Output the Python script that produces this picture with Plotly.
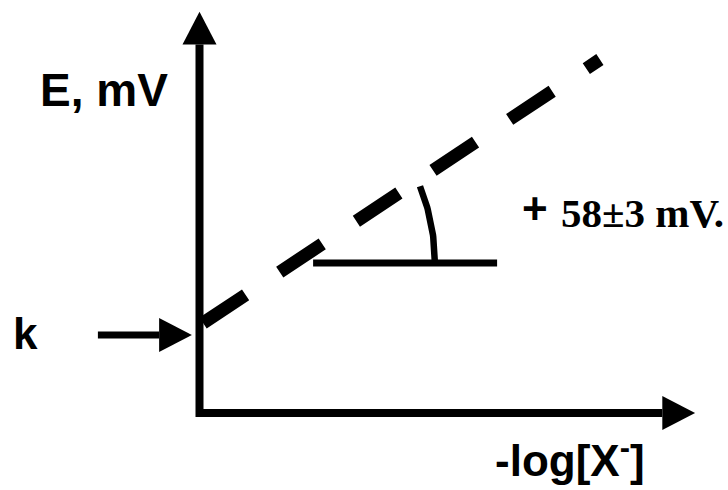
import numpy as np
import plotly.graph_objects as go

# ---- schematic values (data units, origin = axis corner) ----
x_axis_tip = 12.39          # end of the -log[X-] axis arrow
y_axis_tip = 10.03          # end of the E axis arrow
head_len = 0.82             # arrow head length
head_half = 0.425           # arrow head half width
k_arrow_y = 1.95            # level the k arrow points at
k_arrow_x = [-2.54, -0.19]  # k arrow tail / tip
intercept = 2.19            # E at -log[X-] = 0 (k)
slope = 0.664               # Nernst slope in drawing units
line_x = [0.09, 10.01]      # extent of the dashed response line
ref_y = 3.75                # horizontal reference for the slope angle
ref_x = [2.84, 7.44]
arc_center_x = 0.76
arc_radius = 5.125
arc_angle_deg = 22.0

labels = {
    "E": "E, mV",
    "k": "k",
    "x": "-log[X<sup>-</sup>]",
    "plus": "+",
    "slope": "58±3 mV.",
}

BLACK = "#000000"
fig = go.Figure()

def line(xs, ys, width, dash=None):
    fig.add_trace(go.Scatter(x=xs, y=ys, mode="lines",
                             line=dict(color=BLACK, width=width, dash=dash),
                             hoverinfo="skip"))

def tri(xs, ys):
    fig.add_trace(go.Scatter(x=xs + [xs[0]], y=ys + [ys[0]], mode="lines",
                             fill="toself", fillcolor=BLACK,
                             line=dict(color=BLACK, width=0), hoverinfo="skip"))

# axes (single L path)
line([0, 0, x_axis_tip - head_len], [y_axis_tip - head_len, 0, 0], 8)
tri([-head_half, head_half, 0], [y_axis_tip - head_len, y_axis_tip - head_len, y_axis_tip])
tri([x_axis_tip - head_len, x_axis_tip - head_len, x_axis_tip], [-head_half, head_half, 0])

# k arrow
line([k_arrow_x[0], k_arrow_x[1] - head_len], [k_arrow_y, k_arrow_y], 7)
tri([k_arrow_x[1] - head_len, k_arrow_x[1] - head_len, k_arrow_x[1]],
    [k_arrow_y - head_half, k_arrow_y + head_half, k_arrow_y])

# dashed response line
lx = np.array(line_x)
line(list(lx), list(intercept + slope * lx), 13, dash="51px,41px")

# reference line and angle arc
line(ref_x, [ref_y, ref_y], 7)
t = np.radians(np.linspace(0, arc_angle_deg, 40))
line(list(arc_center_x + arc_radius * np.cos(t)), list(ref_y + arc_radius * np.sin(t)), 6.5)

sans = "Liberation Sans, Arial, sans-serif"
serif = "Liberation Serif, Times New Roman, serif"
ann = [
    dict(x=-4.04, y=8.08, text="<b>%s</b>" % labels["E"], xanchor="left", yanchor="middle",
         font=dict(family=sans, size=46)),
    dict(x=-4.72, y=2.0, text="<b>%s</b>" % labels["k"], xanchor="left", yanchor="middle",
         font=dict(family=sans, size=44)),
    dict(x=7.33, y=-1.1, text="<b>%s</b>" % labels["x"], xanchor="left", yanchor="middle",
         font=dict(family=sans, size=44)),
    dict(x=8.02, y=5.12, text="<b>%s</b>" % labels["plus"], xanchor="left", yanchor="middle",
         font=dict(family=sans, size=44)),
    dict(x=13.15, y=5.0, text="<b>%s</b>" % labels["slope"], xanchor="right", yanchor="middle",
         font=dict(family=serif, size=41)),
]
for a in ann:
    fig.add_annotation(xref="x", yref="y", showarrow=False, font_color=BLACK, **a)

fig.update_layout(
    width=728, height=490, margin=dict(l=0, r=0, t=0, b=0),
    paper_bgcolor="white", plot_bgcolor="white", showlegend=False,
    xaxis=dict(range=[-4.9875, 13.2125], visible=False, fixedrange=True),
    yaxis=dict(range=[-1.925, 10.325], visible=False, fixedrange=True),
)
fig.write_html("out.html")
